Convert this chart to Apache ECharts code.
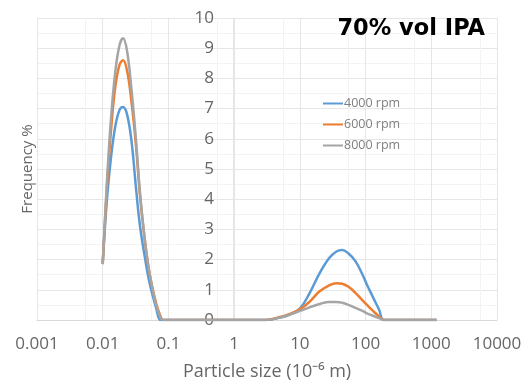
<!DOCTYPE html>
<html>
<head>
<meta charset="utf-8">
<script src="https://cdn.jsdelivr.net/npm/echarts@6/dist/echarts.min.js"></script>
<style>
html,body{margin:0;padding:0;background:#fff;}
#c{width:525px;height:386px;}
</style>
</head>
<body>
<div id="c"></div>
<script>
// Particle size classes (10^-6 m)
const sizes = [0.01, 0.0116, 0.0134, 0.0155, 0.018, 0.0204, 0.0235, 0.0275, 0.032, 0.037, 0.044, 0.052, 0.065, 0.075, 0.083, 0.1, 0.2, 0.5, 1, 2, 3, 5, 7, 10, 14, 20, 28, 36, 44, 55, 70, 90, 105, 130, 160, 190, 300, 600, 1200];
const rpm4000 = [1.9, 4.0, 5.4, 6.4, 6.95, 7.05, 6.8, 5.9, 4.4, 3.1, 2.05, 1.2, 0.4, 0, 0, 0, 0, 0, 0, 0, 0, 0.08, 0.18, 0.38, 0.88, 1.55, 2.05, 2.27, 2.32, 2.2, 1.95, 1.5, 1.17, 0.75, 0.35, 0, 0, 0, 0];
const rpm6000 = [1.85, 4.4, 6.3, 7.7, 8.45, 8.6, 8.25, 7.2, 5.8, 4.1, 2.6, 1.5, 0.55, 0.15, 0, 0, 0, 0, 0, 0, 0, 0.1, 0.2, 0.35, 0.6, 0.95, 1.15, 1.22, 1.2, 1.1, 0.9, 0.65, 0.5, 0.3, 0.12, 0, 0, 0, 0];
const rpm8000 = [1.85, 4.6, 6.7, 8.2, 9.1, 9.33, 8.9, 7.6, 6.0, 4.2, 2.6, 1.5, 0.5, 0.1, 0, 0, 0, 0, 0, 0, 0, 0.08, 0.18, 0.3, 0.42, 0.53, 0.6, 0.6, 0.57, 0.5, 0.4, 0.3, 0.22, 0.14, 0.06, 0, 0, 0, 0];
const seriesNames = ['4000 rpm', '6000 rpm', '8000 rpm'];
const seriesValues = [rpm4000, rpm6000, rpm8000];
const colors = ['#5b9bd5', '#ed7d31', '#a5a5a5'];
const xTicks = [0.001, 0.01, 0.1, 1, 10, 100, 1000, 10000];
const titleText = '70% vol IPA';

const chart = echarts.init(document.getElementById('c'), null, {renderer: 'canvas'});
const labelFont = 'Open Sans';
chart.setOption({
  animation: false,
  backgroundColor: '#fff',
  title: {
    text: titleText, right: 35, top: 13,
    textStyle: {fontFamily: 'DejaVu Sans', fontWeight: 'bold', fontSize: 22.5, color: '#000'}
  },
  legend: {
    data: seriesNames, orient: 'vertical', left: 318, top: 92,
    icon: 'rect', itemWidth: 20, itemHeight: 2, itemGap: 8,
    textStyle: {fontFamily: labelFont, fontSize: 12.5, color: '#7f7f7f', padding: [0, 0, 0, -4]}
  },
  grid: {left: 37, right: 28, top: 18, bottom: 66},
  xAxis: {
    type: 'log', logBase: 10, min: xTicks[0], max: xTicks[xTicks.length - 1],
    name: 'Particle size (10\u207B\u2076 m)', nameLocation: 'middle', nameGap: 43,
    nameTextStyle: {fontFamily: labelFont, fontSize: 18, color: '#666'},
    axisLine: {show: true, lineStyle: {color: '#d9d9d9', width: 1}},
    axisTick: {show: false},
    axisLabel: {fontFamily: labelFont, fontSize: 17, color: '#666', margin: 16,
      formatter: v => String(parseFloat(Number(v).toPrecision(6)))},
    splitLine: {show: true, lineStyle: {color: '#e6e6e6'}},
    minorTick: {show: false, splitNumber: 2},
    minorSplitLine: {show: true, lineStyle: {color: '#f3f3f3'}}
  },
  yAxis: {
    type: 'value', min: 0, max: 10, interval: 1, offset: -196,
    name: 'Frequency %', nameLocation: 'middle', nameGap: 198, nameRotate: 90,
    nameTextStyle: {fontFamily: labelFont, fontSize: 15, color: '#666'},
    axisLine: {show: true, lineStyle: {color: '#e6e6e6'}},
    axisTick: {show: false},
    axisLabel: {fontFamily: labelFont, fontSize: 17, color: '#666', margin: 19},
    splitLine: {show: true, lineStyle: {color: '#e6e6e6'}},
    minorTick: {show: false, splitNumber: 2},
    minorSplitLine: {show: true, lineStyle: {color: '#f3f3f3'}}
  },
  series: seriesNames.map((name, i) => ({
    name: name, type: 'line', smooth: 0.4, showSymbol: false, symbol: 'none',
    lineStyle: {color: colors[i], width: 2.5}, itemStyle: {color: colors[i]},
    data: sizes.map((s, j) => [s, seriesValues[i][j]]),
    z: 2 + i
  }))
});
</script>
</body>
</html>
